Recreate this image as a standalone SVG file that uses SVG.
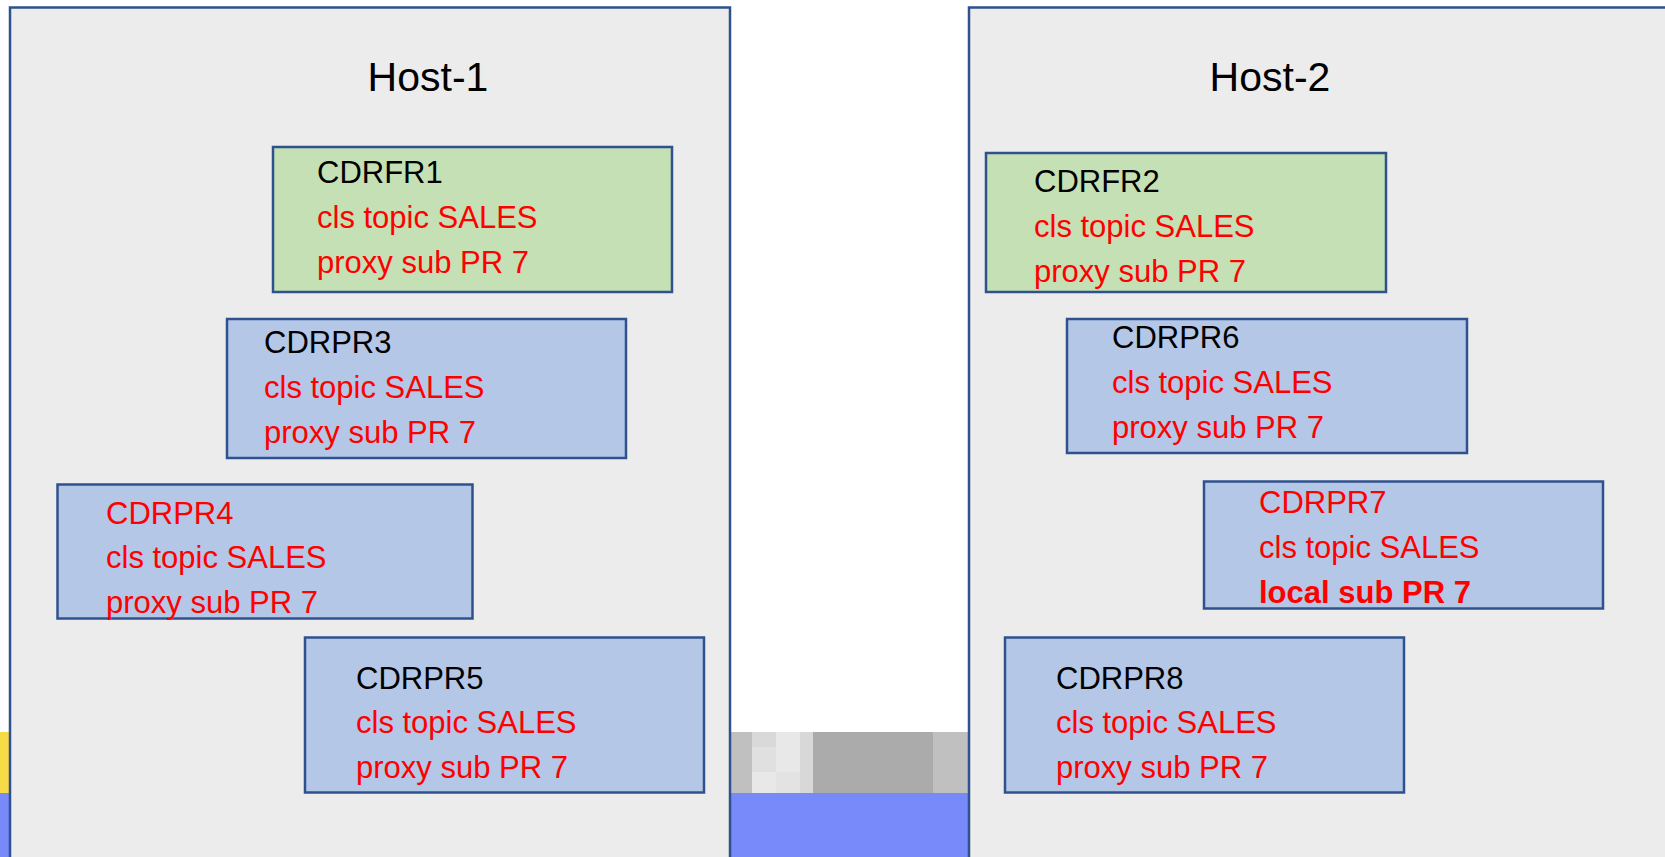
<svg xmlns="http://www.w3.org/2000/svg" width="1665" height="857" viewBox="0 0 1665 857">
  <style>
    .host { fill: #ECECEC; stroke: #2F528F; stroke-width: 2.5; }
    .fr { fill: #C5E0B4; stroke: #2F528F; stroke-width: 2.5; }
    .pr { fill: #B4C7E7; stroke: #2F528F; stroke-width: 2.5; }
    text { font-family: "Liberation Sans", Arial, sans-serif; font-size: 31px; }
    .title { font-size: 41px; fill: #000; text-anchor: middle; }
    .k { fill: #000; }
    .r { fill: #FF0000; }
    .b { font-weight: bold; }
  </style>

  <!-- page background with the slide strip showing at the bottom -->
  <rect x="0" y="0" width="1665" height="857" fill="#FFFFFF"/>
  <g id="backdrop">
    <rect x="0" y="732" width="12" height="61" fill="#F7DB46"/>
    <rect x="0" y="793" width="12" height="64" fill="#7889F9"/>
    <rect x="729" y="732" width="242" height="61" fill="#C0C0C0"/>
    <rect x="752" y="732" width="24" height="15" fill="#D9D9D9"/>
    <rect x="752" y="747" width="24" height="25" fill="#E0E0E0"/>
    <rect x="752" y="772" width="24" height="21" fill="#E8E8E8"/>
    <rect x="776" y="732" width="24" height="40" fill="#E8E8E8"/>
    <rect x="776" y="772" width="24" height="21" fill="#E3E3E3"/>
    <rect x="800" y="732" width="13" height="61" fill="#D8D8D8"/>
    <rect x="813" y="732" width="120" height="61" fill="#ABABAB"/>
    <rect x="729" y="793" width="242" height="64" fill="#7889F9"/>
  </g>

  <!-- hosts -->
  <g id="host-1">
    <rect class="host" x="10" y="7.5" width="720" height="880"/>
    <text class="title" x="428" y="91">Host-1</text>
  </g>
  <g id="host-2">
    <rect class="host" x="969" y="7.5" width="720" height="880"/>
    <text class="title" x="1270" y="91">Host-2</text>
  </g>

  <!-- Host-1 servers -->
  <g id="cdrfr1">
    <rect class="fr" x="273" y="147" width="399" height="145"/>
    <text class="k" x="317" y="183">CDRFR1</text>
    <text class="r" x="317" y="228">cls topic SALES</text>
    <text class="r" x="317" y="273">proxy sub PR 7</text>
  </g>
  <g id="cdrpr3">
    <rect class="pr" x="227" y="319" width="399" height="139"/>
    <text class="k" x="264" y="353">CDRPR3</text>
    <text class="r" x="264" y="398">cls topic SALES</text>
    <text class="r" x="264" y="443">proxy sub PR 7</text>
  </g>
  <g id="cdrpr4">
    <rect class="pr" x="57.5" y="484.5" width="415" height="134"/>
    <text class="r" x="106" y="524">CDRPR4</text>
    <text class="r" x="106" y="568">cls topic SALES</text>
    <text class="r" x="106" y="613">proxy sub PR 7</text>
  </g>
  <g id="cdrpr5">
    <rect class="pr" x="305" y="637.5" width="399" height="155"/>
    <text class="k" x="356" y="689">CDRPR5</text>
    <text class="r" x="356" y="733">cls topic SALES</text>
    <text class="r" x="356" y="778">proxy sub PR 7</text>
  </g>

  <!-- Host-2 servers -->
  <g id="cdrfr2">
    <rect class="fr" x="986" y="153" width="400" height="139"/>
    <text class="k" x="1034" y="192">CDRFR2</text>
    <text class="r" x="1034" y="237">cls topic SALES</text>
    <text class="r" x="1034" y="282">proxy sub PR 7</text>
  </g>
  <g id="cdrpr6">
    <rect class="pr" x="1067" y="319" width="400" height="134"/>
    <text class="k" x="1112" y="348">CDRPR6</text>
    <text class="r" x="1112" y="393">cls topic SALES</text>
    <text class="r" x="1112" y="438">proxy sub PR 7</text>
  </g>
  <g id="cdrpr7">
    <rect class="pr" x="1204" y="481.5" width="399" height="127"/>
    <text class="r" x="1259" y="513">CDRPR7</text>
    <text class="r" x="1259" y="558">cls topic SALES</text>
    <text class="r b" x="1259" y="603">local sub PR 7</text>
  </g>
  <g id="cdrpr8">
    <rect class="pr" x="1005" y="637.5" width="399" height="155"/>
    <text class="k" x="1056" y="689">CDRPR8</text>
    <text class="r" x="1056" y="733">cls topic SALES</text>
    <text class="r" x="1056" y="778">proxy sub PR 7</text>
  </g>

  <!-- no connectors are drawn between the servers -->
  <g id="connectors"/>
</svg>
